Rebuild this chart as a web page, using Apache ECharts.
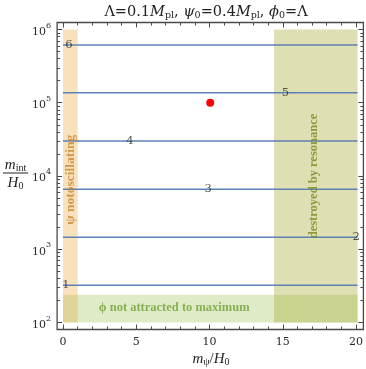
<!DOCTYPE html>
<html><head><meta charset="utf-8">
<script src="https://cdn.jsdelivr.net/npm/echarts@6/dist/echarts.min.js"></script>
<style>html,body{margin:0;padding:0;background:#fff}#c{width:366px;height:369px}</style>
</head><body><div id="c"></div>
<script>
// ---- data ----
const contourValues = [322, 1456, 6580, 30000, 137100, 614000];
const contourNames = ['1', '2', '3', '4', '5', '6'];
const contourLabelX = [0.2, 19.9, 9.85, 4.55, 15.1, 0.41];
const contourXRange = [0, 20];
const pointX = [10];
const pointY = [100000];
const notOscX = [0, 1];
const notOscY = [100, 1000000];
const resonanceX = [14.33, 20];
const resonanceY = [100, 1000000];
const notAttractedX = [0, 20];
const notAttractedY = [100, 240];
const xTickValues = [0, 5, 10, 15, 20];
const yTickExponents = [2, 3, 4, 5, 6];
const bandTexts = ['ψ notoscillating', 'destroyed by resonance', 'ϕ not attracted to maximum'];
const bandTextX = [0.48, 17.0, 7.55];
const bandTextY = [8900, 10000, 157];

const SERIF = "'DejaVu Serif', serif";
const TSERIF = "'Liberation Serif', 'DejaVu Serif', serif";
const frameColor = '#4a4a4a';

const chart = echarts.init(document.getElementById('c'), null, {renderer: 'canvas'});

const series = [];
contourValues.forEach((v, i) => {
  series.push({
    type: 'line', xAxisIndex: 0, yAxisIndex: 0, silent: true, symbol: 'none', z: 2,
    data: [[contourXRange[0], v], [contourXRange[1], v]],
    lineStyle: {color: '#5e81b5', width: 1.5}
  });
});
series.push({
  type: 'line', xAxisIndex: 0, yAxisIndex: 0, data: [], silent: true, z: 5,
  markArea: {
    silent: true,
    data: [
      [{coord: [notAttractedX[0], notAttractedY[0]], itemStyle: {color: 'rgba(150,190,70,0.3)'}}, {coord: [notAttractedX[1], notAttractedY[1]]}],
      [{coord: [resonanceX[0], resonanceY[0]], itemStyle: {color: 'rgba(161,166,41,0.35)'}}, {coord: [resonanceX[1], resonanceY[1]]}],
      [{coord: [notOscX[0], notOscY[0]], itemStyle: {color: 'rgba(232,160,40,0.3)'}}, {coord: [notOscX[1], notOscY[1]]}]
    ]
  }
});
series.push({
  type: 'scatter', xAxisIndex: 0, yAxisIndex: 0, silent: true, z: 8,
  symbolSize: 0,
  data: contourValues.map((v, i) => ({value: [contourLabelX[i], v], name: contourNames[i]})),
  label: {show: true, position: 'inside', formatter: p => p.name, color: '#2a2a2a', fontFamily: SERIF, fontSize: 11.5}
});
const bandColors = ['#c8862a', '#7a8720', '#72a036'];
const bandSizes = [13.5, 12.5, 12.5];
bandTexts.forEach((t, i) => {
  series.push({
    type: 'scatter', xAxisIndex: 0, yAxisIndex: 0, silent: true, z: 8, symbolSize: 0,
    data: [{value: [bandTextX[i], bandTextY[i]], name: t}],
    label: {show: true, position: 'inside', formatter: p => p.name, rotate: i < 2 ? 90 : 0,
      color: bandColors[i], fontFamily: TSERIF, fontWeight: 'bold', fontSize: bandSizes[i]}
  });
});
series.push({
  type: 'scatter', xAxisIndex: 0, yAxisIndex: 0, silent: true, z: 10,
  symbolSize: 8, itemStyle: {color: '#ff0000', opacity: 1},
  data: pointX.map((x, i) => [x, pointY[i]])
});

const tickStyle = {show: true, inside: true, length: 5, lineStyle: {color: frameColor, width: 1}};
const minorStyle = {show: true, length: 3, lineStyle: {color: frameColor, width: 1}};

const sub = {fontFamily: TSERIF, fontSize: 10, fill: '#222', lineHeight: 10, verticalAlign: 'bottom'};
const ital = {fontFamily: TSERIF, fontStyle: 'italic', fontSize: 15, fill: '#222', lineHeight: 17, verticalAlign: 'middle'};
const norm = {fontFamily: TSERIF, fontSize: 15, fill: '#222', lineHeight: 17, verticalAlign: 'middle'};
const tSub = {fontFamily: SERIF, fontSize: 9.5, fill: '#222', lineHeight: 10, verticalAlign: 'bottom'};
const tIt = {fontFamily: SERIF, fontStyle: 'italic', fontSize: 14.5, fill: '#222', lineHeight: 17, verticalAlign: 'middle'};
const tN = {fontFamily: SERIF, fontSize: 14.5, fill: '#222', lineHeight: 17, verticalAlign: 'middle'};

const option = {
  animation: false,
  backgroundColor: '#fff',
  grid: [
    {left: 57.1, right: 2.6, top: 22.5, bottom: 39.5, show: true, borderColor: frameColor, borderWidth: 1.3, backgroundColor: 'transparent'},
    {left: 57.1, right: 2.6, top: 29.5, bottom: 46.5},
    {left: 63, right: 8.5, top: 22.5, bottom: 39.5}
  ],
  xAxis: [
    {gridIndex: 0, type: 'value', min: -0.4, max: 20.4, show: false},
    {gridIndex: 1, type: 'value', min: 0, max: 1, show: false},
    {gridIndex: 2, type: 'value', min: xTickValues[0], max: xTickValues[xTickValues.length - 1], interval: 5, position: 'bottom',
      axisLine: {show: false}, splitLine: {show: false}, axisTick: tickStyle,
      minorTick: Object.assign({splitNumber: 5}, minorStyle),
      axisLabel: {margin: 7, color: '#2a2a2a', fontFamily: SERIF, fontSize: 11}},
    {gridIndex: 2, type: 'value', min: xTickValues[0], max: xTickValues[xTickValues.length - 1], interval: 5, position: 'top',
      axisLine: {show: false}, splitLine: {show: false}, axisTick: tickStyle,
      minorTick: Object.assign({splitNumber: 5}, minorStyle), axisLabel: {show: false}}
  ],
  yAxis: [
    {gridIndex: 0, type: 'log', logBase: 10, min: Math.pow(10, 1.9044), max: Math.pow(10, 6.0956), show: false},
    {gridIndex: 1, type: 'log', logBase: 10, min: Math.pow(10, yTickExponents[0]), max: Math.pow(10, yTickExponents[yTickExponents.length - 1]),
      position: 'left', axisLine: {show: false}, splitLine: {show: false}, axisTick: tickStyle,
      minorTick: Object.assign({splitNumber: 9}, minorStyle),
      axisLabel: {margin: 6, formatter: v => '{b|10}{s|' + Math.round(Math.log10(v)) + '}',
        rich: {b: {fontFamily: SERIF, fontSize: 11, color: '#2a2a2a', lineHeight: 16, verticalAlign: 'bottom'},
               s: {fontFamily: SERIF, fontSize: 8, color: '#2a2a2a', lineHeight: 9, verticalAlign: 'top'}}}},
    {gridIndex: 1, type: 'log', logBase: 10, min: Math.pow(10, yTickExponents[0]), max: Math.pow(10, yTickExponents[yTickExponents.length - 1]),
      position: 'right', axisLine: {show: false}, splitLine: {show: false}, axisTick: tickStyle,
      minorTick: Object.assign({splitNumber: 9}, minorStyle), axisLabel: {show: false}},
    {gridIndex: 2, type: 'value', min: 0, max: 1, show: false}
  ],
  series: series,
  graphic: [
    {type: 'text', x: 206, y: 12, style: {align: 'center', verticalAlign: 'middle',
      text: '{n|Λ=0.1}{i|M}{sub|pl}{n|, }{i|ψ}{sub|0}{n|=0.4}{i|M}{sub|pl}{n|, }{i|ϕ}{sub|0}{n|=Λ}',
      rich: {n: tN, i: tIt, sub: tSub}}},
    {type: 'text', x: 15.5, y: 165, style: {align: 'center', verticalAlign: 'middle',
      text: '{i|m}{sub|int}', rich: {i: ital, sub: sub}}},
    {type: 'line', shape: {x1: 3, y1: 173, x2: 28, y2: 173}, style: {stroke: '#222', lineWidth: 1}},
    {type: 'text', x: 15.5, y: 183, style: {align: 'center', verticalAlign: 'middle',
      text: '{i|H}{sub|0}', rich: {i: ital, sub: sub}}},
    {type: 'text', x: 211, y: 359, style: {align: 'center', verticalAlign: 'middle',
      text: '{i|m}{sub|ψ}{n|/}{i|H}{sub|0}', rich: {i: ital, n: norm, sub: sub}}}
  ]
};
chart.setOption(option);
</script></body></html>
